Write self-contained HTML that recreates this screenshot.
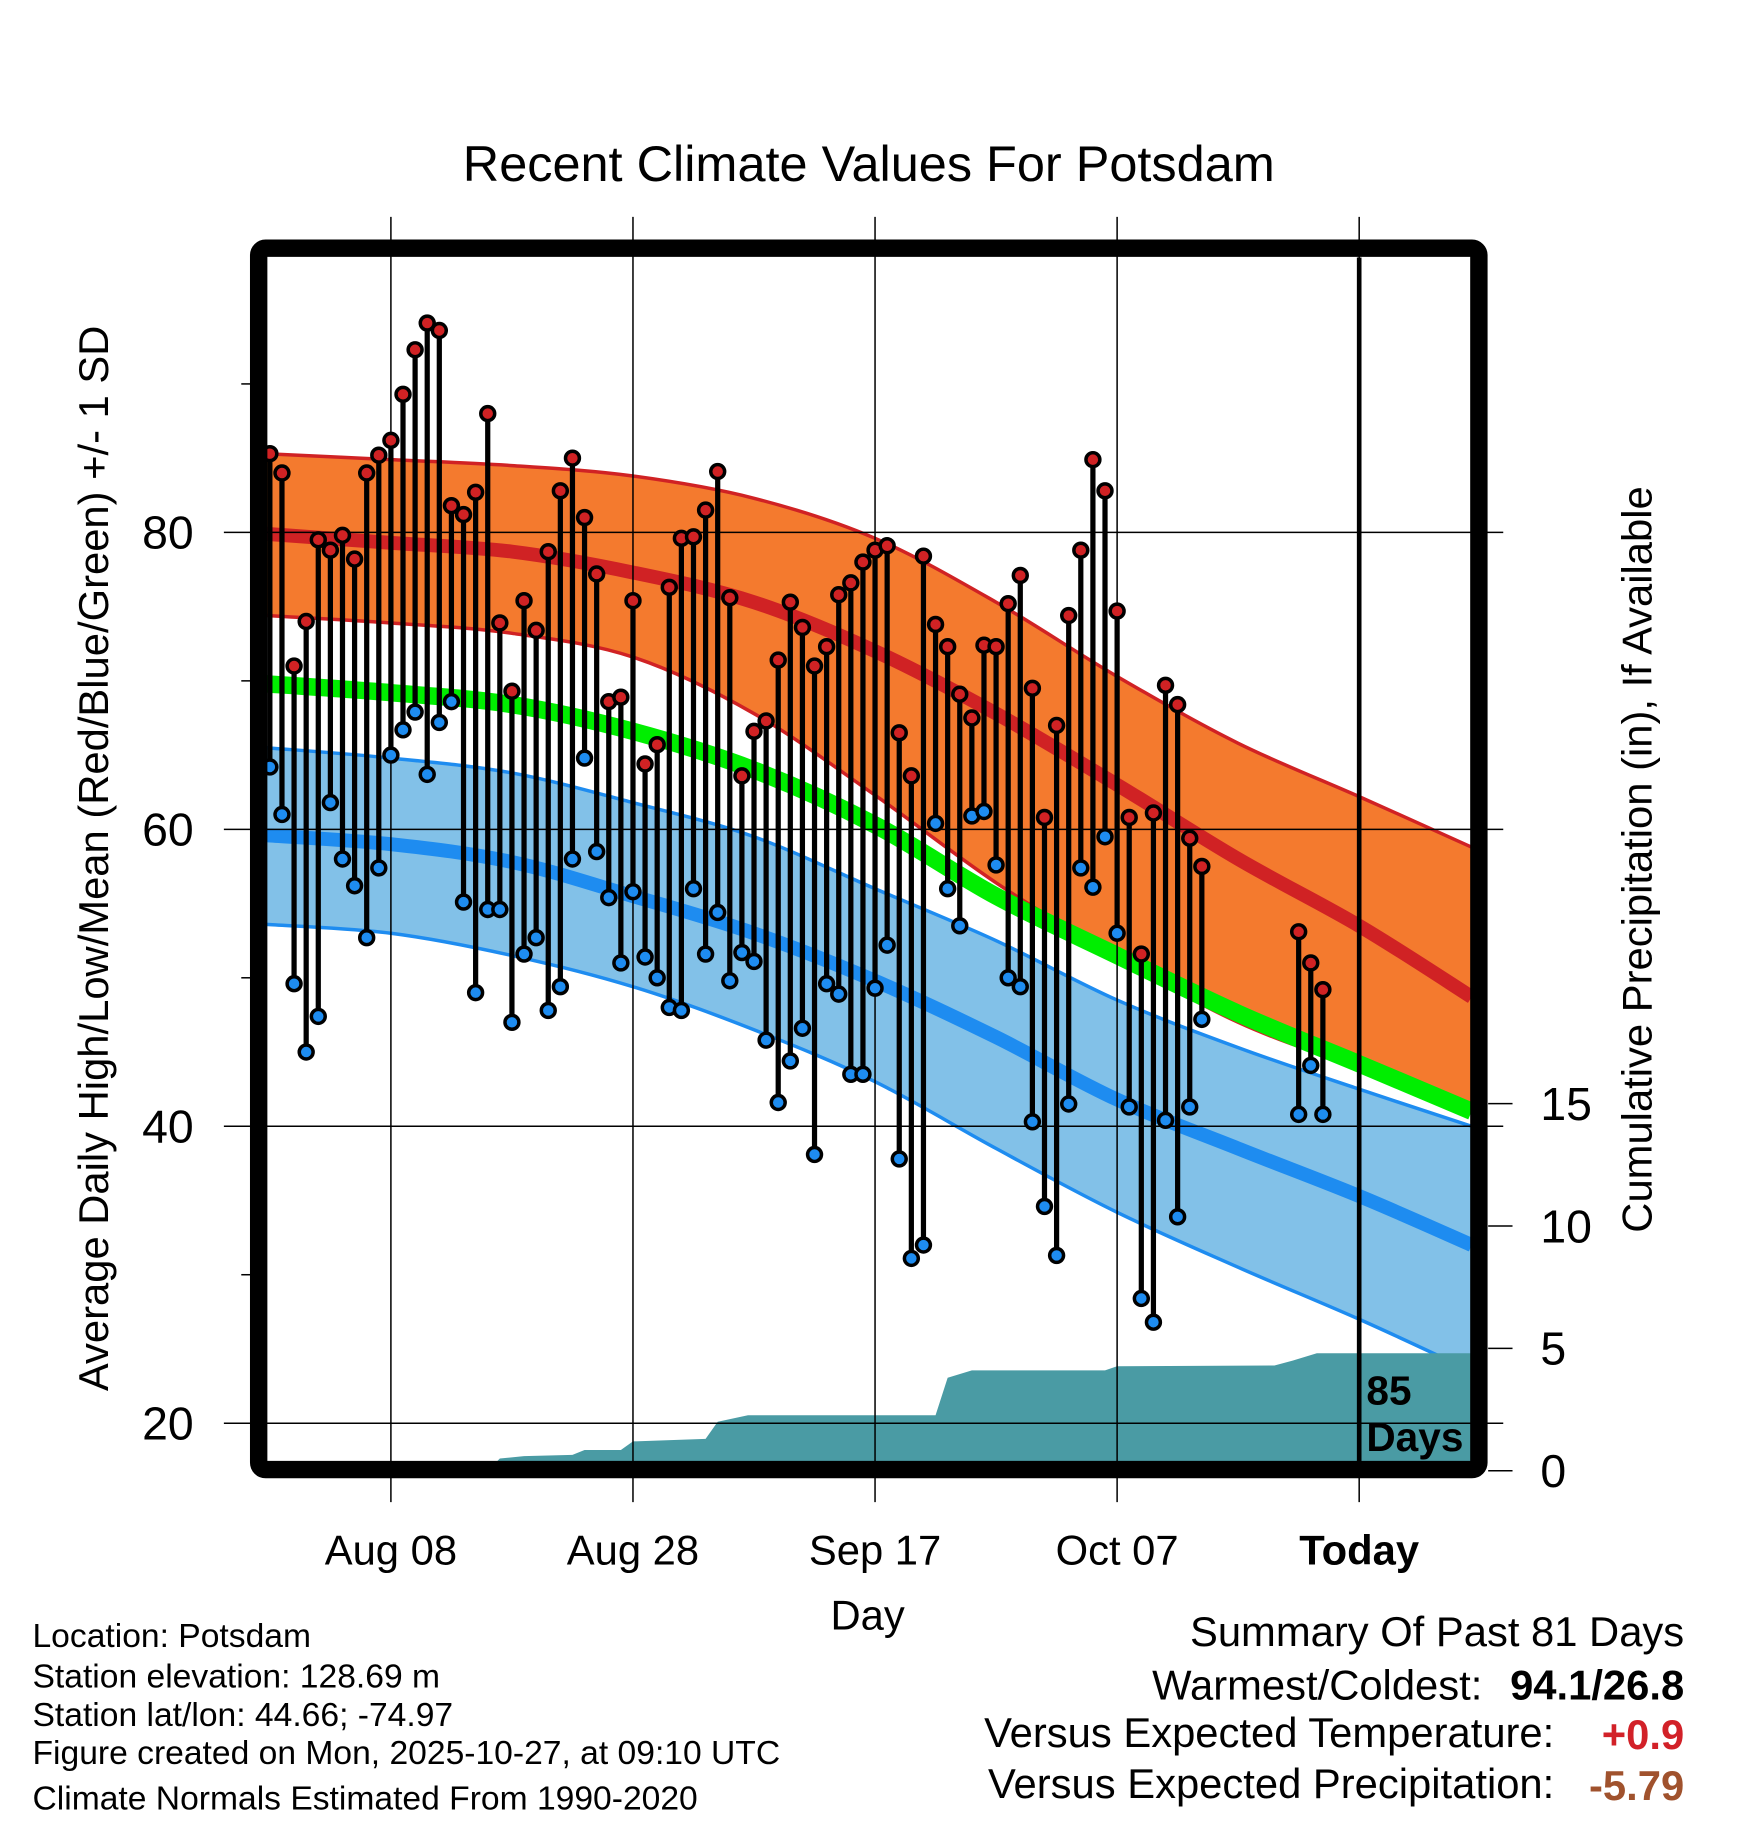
<!DOCTYPE html>
<html><head><meta charset="utf-8"><style>
html,body{margin:0;padding:0;background:#fff}
svg{display:block;font-family:"Liberation Sans",sans-serif}
</style></head><body>
<svg id="chart" width="1748" height="1828" viewBox="0 0 1507 1576" xmlns="http://www.w3.org/2000/svg">
<defs><clipPath id="plotclip"><rect x="230" y="222" width="1038" height="1038"/></clipPath></defs>
<g id="bands" clip-path="url(#plotclip)"></g>
<g id="grid"></g>
<g id="marks" clip-path="url(#plotclip)"></g>
<text x="749" y="156" font-size="43.5" text-anchor="middle">Recent Climate Values For Potsdam</text>
<text transform="translate(93,740) rotate(-90)" font-size="36" text-anchor="middle">Average Daily High/Low/Mean (Red/Blue/Green) +/- 1 SD</text>
<text transform="translate(1424,741) rotate(-90)" font-size="36" text-anchor="middle">Cumulative Precipitation (in), If Available</text>
<text x="748" y="1405" font-size="36" text-anchor="middle">Day</text>
<text x="1178" y="1211" font-size="35" font-weight="bold">85</text>
<text x="1178" y="1251" font-size="35" font-weight="bold">Days</text>
<g font-size="29">
<text x="28" y="1420">Location: Potsdam</text>
<text x="28" y="1455">Station elevation: 128.69 m</text>
<text x="28" y="1488">Station lat/lon: 44.66; -74.97</text>
<text x="28" y="1521">Figure created on Mon, 2025-10-27, at 09:10 UTC</text>
<text x="28" y="1560">Climate Normals Estimated From 1990-2020</text>
</g>
<g font-size="36">
<text x="1452" y="1419" text-anchor="end">Summary Of Past 81 Days</text>
<text x="1278" y="1465" text-anchor="end">Warmest/Coldest:</text>
<text x="1452" y="1465" text-anchor="end" font-weight="bold">94.1/26.8</text>
<text x="1340" y="1506" text-anchor="end">Versus Expected Temperature:</text>
<text x="1452" y="1508" text-anchor="end" font-weight="bold" fill="#d22128">+0.9</text>
<text x="1340" y="1550" text-anchor="end">Versus Expected Precipitation:</text>
<text x="1452" y="1552" text-anchor="end" font-weight="bold" fill="#a0522d">-5.79</text>
</g>
<rect x="223" y="214" width="1052" height="1053" rx="6" fill="none" stroke="#000" stroke-width="15"/>
</svg>
<script>
const highs=[85.3,84,71,74,79.5,78.8,79.8,78.2,84,85.2,86.2,89.3,92.3,94.1,93.6,81.8,81.2,82.7,88.0,73.9,69.3,75.4,73.4,78.7,82.8,85.0,81.0,77.2,68.6,68.9,75.4,64.4,65.7,76.3,79.6,79.7,81.5,84.1,75.6,63.6,66.6,67.3,71.4,75.3,73.6,71.0,72.3,75.8,76.6,78.0,78.8,79.1,66.5,63.6,78.4,73.8,72.3,69.1,67.5,72.4,72.3,75.2,77.1,69.5,60.8,67.0,74.4,78.8,84.9,82.8,74.7,60.8,51.6,61.1,69.7,68.4,59.4,57.5,53.1,51.0,49.2];
const lows=[64.2,61,49.6,45,47.4,61.8,58,56.2,52.7,57.4,65,66.7,67.9,63.7,67.2,68.6,55.1,49,54.6,54.6,47.0,51.6,52.7,47.8,49.4,58.0,64.8,58.5,55.4,51.0,55.8,51.4,50.0,48.0,47.8,56.0,51.6,54.4,49.8,51.7,51.1,45.8,41.6,44.4,46.6,38.1,49.6,48.9,43.5,43.5,49.3,52.2,37.8,31.1,32.0,60.4,56.0,53.5,60.9,61.2,57.6,50.0,49.4,40.3,34.6,31.3,41.5,57.4,56.1,59.5,53.0,41.3,28.4,26.8,40.4,33.9,41.3,47.2,40.8,44.1,40.8];
const normDays=[-10.3,0,10,20,30,40,50,60,70,80,89.3];
const highUpper=[85.3,84.9,84.5,83.8,82.3,79.6,75.3,70.3,65.8,62.2,58.8];
const highMean=[79.9,79.3,78.7,77.3,75.3,72.0,67.8,63.0,58.0,53.5,48.7];
const highLower=[74.4,73.9,73.2,71.6,67.8,62.3,56.4,51.4,47.0,43.9,41.0];
const dailyMean=[69.8,69.2,68.4,66.6,64.0,60.3,55.5,51.5,47.6,44.2,41.0];
const lowUpper=[65.5,64.8,63.8,61.8,59.5,56.0,52.5,48.5,45.3,42.5,40.0];
const lowMean=[59.6,59.0,57.8,55.5,53.0,49.8,46.0,41.8,38.5,35.3,32.0];
const lowLower=[53.6,53.0,51.5,49.4,46.5,43.0,38.5,34.2,30.5,27.0,23.5];
const precipDays=[-10.3,8,9,11,15,16,19,20,26,27,29.5,45,46,48,59,60,73,74.5,76.5,89.3];
const precipCum=[0,0,0.5,0.6,0.65,0.85,0.85,1.2,1.3,2.0,2.27,2.27,3.8,4.1,4.1,4.27,4.3,4.5,4.8,4.8];
const xTickDays=[0,20,40,60,80];
const xTickLabels=["Aug 08","Aug 28","Sep 17","Oct 07","Today"];
const yTicks=[20,40,60,80];
const yMinor=[30,50,70,90];
const pTicks=[0,5,10,15];

const NS="http://www.w3.org/2000/svg";
const X=d=>337+d*10.435;
const Y=t=>459+(80-t)*12.8;
const P=p=>1268-p*21.1;
const bands=document.getElementById('bands'),grid=document.getElementById('grid'),marks=document.getElementById('marks');
function mk(tag,attrs,parent){const e=document.createElementNS(NS,tag);for(const k in attrs)e.setAttribute(k,attrs[k]);parent.appendChild(e);return e;}
function smooth(pts){let s='';for(let i=0;i<pts.length-1;i++){const p0=pts[Math.max(i-1,0)],p1=pts[i],p2=pts[i+1],p3=pts[Math.min(i+2,pts.length-1)];
const c1=[p1[0]+(p2[0]-p0[0])/6,p1[1]+(p2[1]-p0[1])/6],c2=[p2[0]-(p3[0]-p1[0])/6,p2[1]-(p3[1]-p1[1])/6];
s+=' C'+c1[0].toFixed(1)+','+c1[1].toFixed(1)+' '+c2[0].toFixed(1)+','+c2[1].toFixed(1)+' '+p2[0].toFixed(1)+','+p2[1].toFixed(1);}return s;}
const pts=arr=>normDays.map((d,i)=>[X(d),Y(arr[i])]);
const curve=arr=>{const p=pts(arr);return 'M'+p[0][0]+','+p[0][1]+smooth(p);};
function bandPath(up,lo){const a=pts(up),b=pts(lo).reverse();return 'M'+a[0][0]+','+a[0][1]+smooth(a)+' L'+b[0][0]+','+b[0][1]+smooth(b)+' Z';}

let e;
e=mk('path',{d:bandPath(highUpper,highLower),fill:'#f47a2e'},bands);

e=mk('path',{d:curve(highUpper),fill:'none',stroke:'#d02224','stroke-width':3},bands);

e=mk('path',{d:curve(highLower),fill:'none',stroke:'#d02224','stroke-width':3},bands);

e=mk('path',{d:curve(highMean),fill:'none',stroke:'#d02224','stroke-width':12},bands);

e=mk('path',{d:bandPath(lowUpper,lowLower),fill:'#82c1e8'},bands);

e=mk('path',{d:curve(lowUpper),fill:'none',stroke:'#1e8cf0','stroke-width':3},bands);

e=mk('path',{d:curve(lowLower),fill:'none',stroke:'#1e8cf0','stroke-width':3},bands);

e=mk('path',{d:curve(lowMean),fill:'none',stroke:'#1e8cf0','stroke-width':12},bands);

e=mk('path',{d:curve(dailyMean),fill:'none',stroke:'#00ee00','stroke-width':15},bands);

let pp=precipDays.map((d,i)=>X(d)+','+P(precipCum[i]));
pp.push(X(89.3)+',1262',X(-10.3)+',1262');
e=mk('polygon',{points:pp.join(' '),fill:'#4a9ba4'},bands);


yTicks.forEach(t=>{e=mk('line',{x1:193,x2:1296,y1:Y(t),y2:Y(t),stroke:'#000','stroke-width':1.3},grid);

e=mk('text',{x:167,y:Y(t)+14,'font-size':40,'text-anchor':'end'},grid);e.textContent=t;
});
yMinor.forEach(t=>{e=mk('line',{x1:208,x2:216,y1:Y(t),y2:Y(t),stroke:'#000','stroke-width':1.3},grid);
});
xTickDays.forEach((d,i)=>{e=mk('line',{x1:X(d),x2:X(d),y1:187,y2:1295,stroke:'#000','stroke-width':1.3},grid);

e=mk('text',{x:X(d),y:1349,'font-size':36,'text-anchor':'middle','font-weight':i==4?'bold':'normal'},grid);e.textContent=xTickLabels[i];
});
pTicks.forEach(p=>{e=mk('line',{x1:1283,x2:1304,y1:P(p),y2:P(p),stroke:'#000','stroke-width':1.3},grid);

e=mk('text',{x:1328,y:P(p)+14,'font-size':40},grid);e.textContent=p;
});
e=mk('line',{x1:X(80),x2:X(80),y1:222,y2:1262,stroke:'#000','stroke-width':4},marks);


const dayIdx=[];for(let d=-10;d<=67;d++)dayIdx.push(d);dayIdx.push(75,76,77);
highs.forEach((h,i)=>{const x=X(dayIdx[i]);
e=mk('line',{x1:x,x2:x,y1:Y(h),y2:Y(lows[i]),stroke:'#000','stroke-width':4.5},marks);
});
highs.forEach((h,i)=>{const x=X(dayIdx[i]);
e=mk('circle',{cx:x,cy:Y(h),r:6,fill:'#d02224',stroke:'#000','stroke-width':3},marks);

e=mk('circle',{cx:x,cy:Y(lows[i]),r:6,fill:'#1e8cf0',stroke:'#000','stroke-width':3},marks);
});
</script>
</body></html>
